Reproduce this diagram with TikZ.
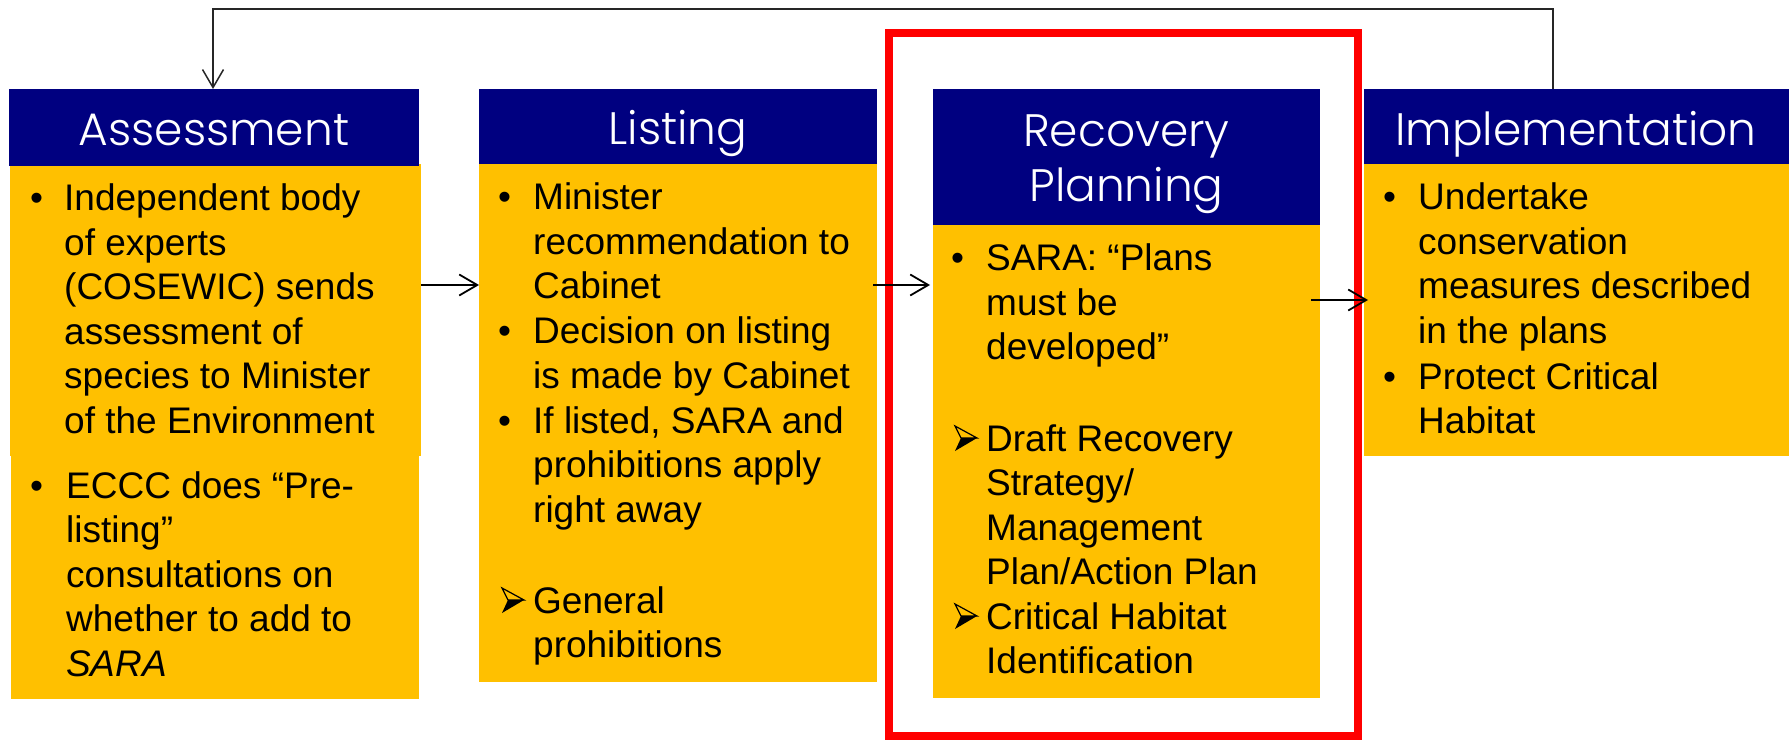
\documentclass[tikz,border=0pt]{standalone}
\usepackage{fontspec}
\setmainfont{Liberation Sans}
\newfontfamily\hdfont{Poppins Light}
\usetikzlibrary{arrows.meta,calc}
\definecolor{navy}{HTML}{000080}
\definecolor{gold}{HTML}{FFC000}
\definecolor{redline}{HTML}{FF0000}
\begin{document}
\begin{tikzpicture}[x=1pt,y=1pt,
  hdr/.style={fill=navy,draw=none,anchor=north west,inner sep=0,outer sep=0},
  bodybox/.style={fill=gold,draw=none,anchor=north west,inner sep=0,outer sep=0},
  hdtext/.style={text=white,font=\hdfont\fontsize{45.5}{55}\selectfont,inner sep=0,anchor=base},
  txt/.style={font=\fontsize{37}{44.5}\selectfont,inner sep=0,anchor=base west,text=black},
  bul/.style={font=\fontsize{37}{44.5}\selectfont,inner sep=0,anchor=base west},
  conn/.style={draw=black,line width=1.8pt,-{Straight Barb[length=18pt,width=21pt]}},
  loopline/.style={draw=black!85,line width=1.5pt,-{Straight Barb[length=18pt,width=21pt]}},
  frame/.style={draw=redline,line width=8pt},
  ptr/.pic={
    \draw[line width=1.2pt,line join=miter] (0,25) -- (22,13) -- (6,13) -- cycle;
    \fill[line join=miter] (0,0) -- (22,13) -- (6,13) -- cycle;
  }
]
\useasboundingbox (0,0) rectangle (1789,-743);

% boxes
\node[bodybox,minimum width=411pt,minimum height=292pt] (ab1) at (10,-164) {};
\node[bodybox,minimum width=408pt,minimum height=243pt] (ab2) at (11,-456) {};
\node[hdr,minimum width=410pt,minimum height=77pt] (ah) at (9,-89) {};

\node[bodybox,minimum width=398pt,minimum height=518pt] (lb) at (479,-164) {};
\node[hdr,minimum width=398pt,minimum height=75pt] (lh) at (479,-89) {};

\node[bodybox,minimum width=387pt,minimum height=473pt] (rb) at (933,-225) {};
\node[hdr,minimum width=387pt,minimum height=136pt] (rh) at (933,-89) {};

\node[bodybox,minimum width=425pt,minimum height=292pt] (ib) at (1364,-164) {};
\node[hdr,minimum width=425pt,minimum height=75pt] (ih) at (1364,-89) {};

% red frame
\draw[frame] (889,-33) rectangle (1358,-736);

% header texts
\node[hdtext] (aht) at (214,-146) {Assessment};
\node[hdtext] (lht) at (678,-145) {Listing};
\node[hdtext] (rht1) at (1126.5,-147) {Recovery};
\node[hdtext] (rht2) at (1126.5,-202) {Planning};
\node[hdtext] (iht) at (1576,-146) {Implementation};

% Assessment body
\node[bul] (ab1b) at (30,-211) {•};
\node[txt] (ab1t) at (64,-211) {\begin{tabular}[t]{@{}l@{}}Independent body\\of experts\\(COSEWIC) sends\\assessment of\\species to Minister\\of the Environment\end{tabular}};
\node[bul] (ab2b) at (30,-498) {•};
\node[txt] (ab2t) at (66,-498) {\begin{tabular}[t]{@{}l@{}}ECCC does “Pre-\\listing”\\consultations on\\whether to add to\\\textit{SARA}\end{tabular}};

% Listing body
\node[bul] (lb1b) at (498,-210) {•};
\node[txt] (lb1t) at (533,-210) {\begin{tabular}[t]{@{}l@{}}Minister\\recommendation to\\Cabinet\end{tabular}};
\node[bul] (lb2b) at (498,-344) {•};
\node[txt] (lb2t) at (533,-344) {\begin{tabular}[t]{@{}l@{}}Decision on listing\\is made by Cabinet\end{tabular}};
\node[bul] (lb3b) at (498,-433) {•};
\node[txt] (lb3t) at (533,-433) {\begin{tabular}[t]{@{}l@{}}If listed, SARA and\\prohibitions apply\\right away\end{tabular}};
\pic at (502,-613) {ptr};
\node[txt] (lb4t) at (533,-613) {\begin{tabular}[t]{@{}l@{}}General\\prohibitions\end{tabular}};

% Recovery body
\node[bul] (rb1b) at (951,-271) {•};
\node[txt] (rb1t) at (986,-271) {\begin{tabular}[t]{@{}l@{}}SARA: “Plans\\must be\\developed”\end{tabular}};
\pic at (955,-451) {ptr};
\node[txt] (rb2t) at (986,-451) {\begin{tabular}[t]{@{}l@{}}Draft Recovery\\Strategy/\\Management\\Plan/Action Plan\end{tabular}};
\pic at (955,-629) {ptr};
\node[txt] (rb3t) at (986,-629) {\begin{tabular}[t]{@{}l@{}}Critical Habitat\\Identification\end{tabular}};

% Implementation body
\node[bul] (ib1b) at (1383,-210) {•};
\node[txt] (ib1t) at (1418,-210) {\begin{tabular}[t]{@{}l@{}}Undertake\\conservation\\measures described\\in the plans\end{tabular}};
\node[bul] (ib2b) at (1383,-389) {•};
\node[txt] (ib2t) at (1418,-389) {\begin{tabular}[t]{@{}l@{}}Protect Critical\\Habitat\end{tabular}};

% connectors
\coordinate (yA) at (0,-285);
\coordinate (yB) at (0,-300);
\coordinate (fbR) at (1553,-9);
\coordinate (fbL) at (213,-9);
\draw[conn] (ab1.east |- yA) -- (lb.west |- yA);
\draw[conn] ($(lb.east |- yA)+(-4,0)$) -- ($(rb.west |- yA)+(-3,0)$);
\draw[conn] ($(rb.east |- yB)+(-9,0)$) -- ($(ib.west |- yB)+(4,0)$);
\draw[loopline] (ih.north -| fbR) -- (fbR) -- (fbL) -- (ah.north -| fbL);
\end{tikzpicture}
\end{document}
